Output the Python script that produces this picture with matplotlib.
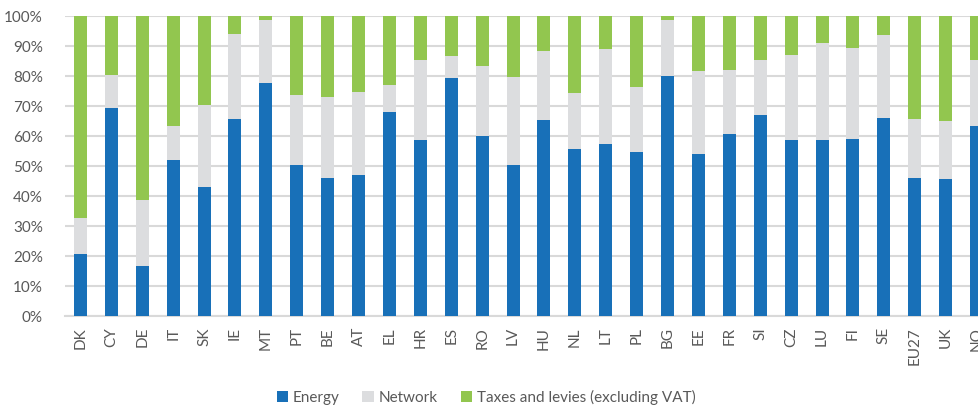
import matplotlib
matplotlib.use("Agg")
import matplotlib.pyplot as plt
import numpy as np
from matplotlib.ticker import PercentFormatter

countries = ["DK", "CY", "DE", "IT", "SK", "IE", "MT", "PT", "BE", "AT", "EL", "HR", "ES", "RO", "LV",
             "HU", "NL", "LT", "PL", "BG", "EE", "FR", "SI", "CZ", "LU", "FI", "SE", "EU27", "UK", "NO"]
energy = [20.7, 69.4, 16.7, 52.0, 43.0, 65.8, 77.8, 50.4, 46.0, 47.0, 68.0, 58.7, 79.3, 60.0, 50.3,
          65.3, 55.7, 57.3, 54.7, 80.0, 54.0, 60.7, 67.0, 58.7, 58.7, 59.0, 66.0, 46.0, 45.7, 63.3]
network_top = [32.7, 80.3, 38.7, 63.3, 70.3, 94.1, 98.8, 73.7, 73.0, 74.7, 77.0, 85.3, 86.7, 83.3, 79.7,
               88.3, 74.3, 89.0, 76.3, 98.7, 81.7, 82.0, 85.3, 87.0, 91.0, 89.3, 93.7, 65.7, 65.0, 85.3]
network = [t - e for t, e in zip(network_top, energy)]
taxes = [100 - t for t in network_top]
series_names = ["Energy", "Network", "Taxes and levies (excluding VAT)"]

plt.rcParams['font.family'] = ['Lato', 'DejaVu Sans']

fig = plt.figure(figsize=(9.79, 4.07), dpi=100)
ax = fig.add_axes([65/979, 91/407, 927/979, 300/407])

x = np.arange(len(countries))
w = 0.42
c_energy = "#1870b8"
c_net = "#dcdddf"
c_tax = "#92c64f"
ax.bar(x, energy, w, color=c_energy, label=series_names[0], zorder=3)
ax.bar(x, network, w, bottom=energy, color=c_net, label=series_names[1], zorder=3)
ax.bar(x, taxes, w, bottom=network_top, color=c_tax, label=series_names[2], zorder=3)

ax.set_xlim(-0.5, len(countries) - 0.5)
ax.set_ylim(0, 100)
ax.set_yticks(np.arange(0, 101, 10))
ax.yaxis.set_major_formatter(PercentFormatter(decimals=0))
ax.grid(axis='y', color="#d9d9d9", linewidth=1.5, zorder=0)
ax.set_axisbelow(True)
for s in ["top", "right", "left"]:
    ax.spines[s].set_visible(False)
ax.spines["bottom"].set_color("#d9d9d9")
ax.spines["bottom"].set_linewidth(1.5)
ax.set_xticks(x)
ax.set_xticklabels(countries, rotation=90)
ax.tick_params(axis='both', length=0, labelsize=11, labelcolor="#595959")
ax.tick_params(axis='y', pad=16)
ax.tick_params(axis='x', pad=8)

fig.legend(loc='center', bbox_to_anchor=(486/979, 10/407), ncol=3, frameon=False,
           fontsize=11, labelcolor="#595959", handlelength=0.75, handleheight=0.75,
           handletextpad=0.3, columnspacing=1.5)

fig.savefig("out.png", dpi=100)
